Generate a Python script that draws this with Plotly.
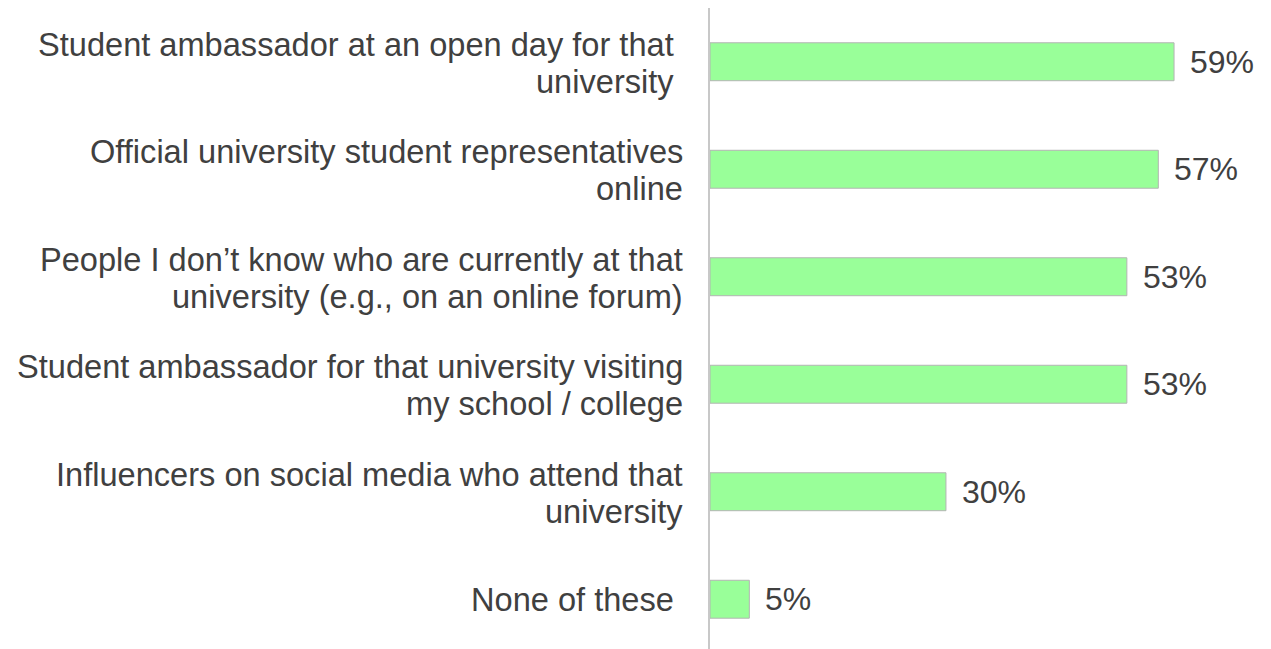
import plotly.graph_objects as go

categories = [
    "Student ambassador at an open day for that university",
    "Official university student representatives online",
    "People I don\u2019t know who are currently at that university (e.g., on an online forum)",
    "Student ambassador for that university visiting my school / college",
    "Influencers on social media who attend that university",
    "None of these",
]
category_lines = [
    ["Student ambassador at an open day for that\u00a0", "university\u00a0"],
    ["Official university student representatives", "online"],
    ["People I don\u2019t know who are currently at that", "university (e.g., on an online forum)"],
    ["Student ambassador for that university visiting", "my school / college"],
    ["Influencers on social media who attend that", "university"],
    ["None of these\u00a0"],
]
values = [0.59, 0.57, 0.53, 0.53, 0.30, 0.05]
value_labels = ["59%", "57%", "53%", "53%", "30%", "5%"]

FONT = "Liberation Sans, Arial, sans-serif"
TEXT_COLOR = "#404040"
LABEL_SIZE = 32.6
LINE_GAP = 37

fig = go.Figure(
    go.Bar(
        x=values,
        y=categories,
        orientation="h",
        width=0.353,
        marker=dict(color="#99FF99", line=dict(color="#b4b4b4", width=1)),
        hoverinfo="skip",
    )
)

annotations = []
for cat, lines in zip(categories, category_lines):
    n = len(lines)
    for i, line in enumerate(lines):
        shift = -(i - (n - 1) / 2) * LINE_GAP - (1 if n > 1 else 0)
        annotations.append(dict(
            x=0, xref="paper", y=cat, yref="y",
            text=line, showarrow=False,
            xanchor="right", yanchor="middle",
            xshift=-25, yshift=shift,
            font=dict(family=FONT, size=LABEL_SIZE, color=TEXT_COLOR),
        ))
for cat, v, lab in zip(categories, values, value_labels):
    annotations.append(dict(
        x=v, xref="x", y=cat, yref="y",
        text=lab, showarrow=False,
        xanchor="left", yanchor="middle",
        xshift=14,
        font=dict(family=FONT, size=32, color=TEXT_COLOR),
    ))

fig.update_layout(
    width=1271,
    height=649,
    margin=dict(l=710, r=12, t=8, b=0),
    paper_bgcolor="white",
    plot_bgcolor="white",
    showlegend=False,
    font=dict(family=FONT, size=32, color=TEXT_COLOR),
    annotations=annotations,
    xaxis=dict(
        range=[0, 0.698],
        visible=False,
        showgrid=False,
        zeroline=False,
    ),
    yaxis=dict(
        categoryorder="array",
        categoryarray=categories,
        range=[5.463, -0.5],
        showgrid=False,
        zeroline=False,
        showline=True,
        linecolor="#c8c8c8",
        linewidth=2,
        ticks="",
        showticklabels=False,
    ),
)

fig.write_html("out.html")
